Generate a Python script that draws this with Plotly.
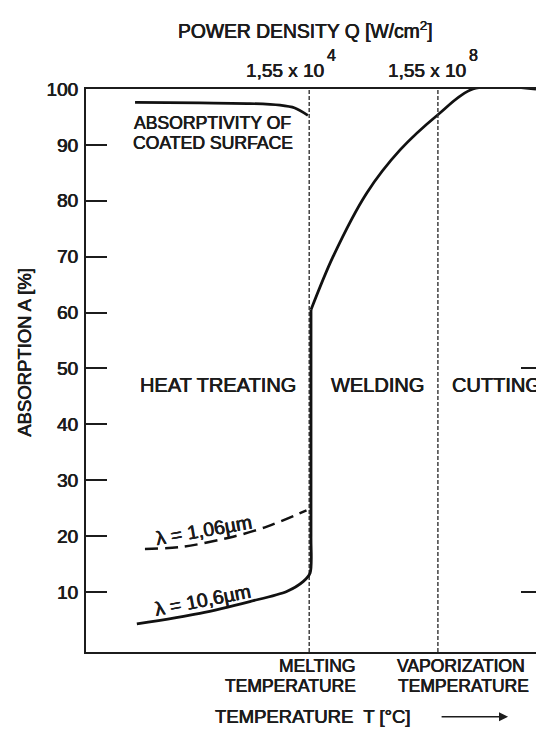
import plotly.graph_objects as go

# ---------------- data ----------------
# x: relative temperature scale (0..10 across the visible plot), y: absorption in %
coated_x = [1.09, 2.53, 3.64, 4.31, 4.64, 4.93]
coated_y = [97.6, 97.5, 97.4, 97.1, 96.6, 95.3]

# lambda = 10.6 um: solid-state part up to the melting jump
co2_low_x = [1.13, 2.53, 3.64, 4.46, 4.83, 4.98, 5.0, 5.0]
co2_low_y = [4.3, 6.2, 8.3, 10.1, 11.9, 13.4, 20.0, 60.5]
# molten part up to full absorption
co2_high_x = [5.0, 5.49, 6.24, 6.98, 7.82, 8.6, 10.0]
co2_high_y = [60.5, 70.0, 81.4, 89.1, 95.4, 100.0, 100.0]

yag_x = [1.31, 2.16, 3.27, 4.02, 4.9]
yag_y = [17.7, 18.1, 19.9, 21.7, 24.6]

melting_T = 4.96
vaporization_T = 7.82

y_ticks = [10, 20, 30, 40, 50, 60, 70, 80, 90, 100]
right_ticks = [10, 50]
y_range = [-0.73, 100]

power_mantissa = ["1,55 x 10", "1,55 x 10"]
power_exponent = ["4", "8"]
region_labels = ["HEAT TREATING", "WELDING", "CUTTING"]

FONT = "Liberation Sans, Arial, Helvetica, sans-serif"
INK = "#1c1c1c"
THICK = "0.35px 0 0 #1c1c1c, -0.35px 0 0 #1c1c1c"

fig = go.Figure()

# region boundaries
fig.add_trace(go.Scatter(x=[melting_T, melting_T], y=y_range, mode="lines",
                         line=dict(color="#333", width=1.4, dash="4px,2px")))
fig.add_trace(go.Scatter(x=[vaporization_T, vaporization_T], y=y_range, mode="lines",
                         line=dict(color="#333", width=1.4, dash="4px,2px"), yaxis="y2"))

# curves
fig.add_trace(go.Scatter(x=coated_x, y=coated_y, mode="lines",
                         line=dict(color="#111", width=2.7, shape="spline", smoothing=0.8)))
fig.add_trace(go.Scatter(x=yag_x, y=yag_y, mode="lines",
                         line=dict(color="#111", width=2.5, dash="13px,7px", shape="spline", smoothing=0.8)))
fig.add_trace(go.Scatter(x=co2_low_x, y=co2_low_y, mode="lines",
                         line=dict(color="#111", width=2.8, shape="spline", smoothing=0.8)))
fig.add_trace(go.Scatter(x=co2_high_x, y=co2_high_y, mode="lines",
                         line=dict(color="#111", width=2.8, shape="spline", smoothing=0.9)))

def ann(text, x, y, size=19, **kw):
    d = dict(text=text, x=x, y=y, xref="paper", yref="paper", showarrow=False,
             xanchor="center", yanchor="middle",
             font=dict(family=FONT, size=size, color=INK, shadow=THICK))
    d.update(kw)
    fig.add_annotation(**d)

# top labels
ann("POWER DENSITY Q [W/cm<sup>2</sup>]", 0.487, 1.104, size=19.3)
ann(power_mantissa[0], 0.442, 1.032, size=19)
ann(power_exponent[0], 0.546, 1.060, size=16)
ann(power_mantissa[1], 0.758, 1.032, size=19)
ann(power_exponent[1], 0.862, 1.060, size=16)

# y title
ann("ABSORPTION A [%]", -0.136, 0.533, size=18.5, textangle=-90)

# region labels
ann(region_labels[0], 0.293, 0.474, size=20)
ann(region_labels[1], 0.647, 0.474, size=20)
ann(region_labels[2], 0.809, 0.474, size=20, xanchor="left")

# curve labels
ann("ABSORPTIVITY OF", 0.28, 0.94, size=17.6)
ann("COATED SURFACE", 0.282, 0.904, size=17.6)
ann("λ = 1,06µm", 0.26, 0.217, size=19.5, textangle=-10)
ann("λ = 10,6µm", 0.258, 0.092, size=19.5, textangle=-11)

# bottom labels
ann("MELTING", 0.604, -0.025, size=17.5, xanchor="right")
ann("TEMPERATURE", 0.604, -0.060, size=17.5, xanchor="right")
ann("VAPORIZATION", 0.833, -0.025, size=17.5)
ann("TEMPERATURE", 0.838, -0.060, size=17.5)
ann("TEMPERATURE  T [°C]", 0.505, -0.115, size=18.5)
fig.add_annotation(x=0.938, y=-0.115, xref="paper", yref="paper", text="",
                   showarrow=True, ax=-68, ay=0, arrowhead=2, arrowsize=1.4,
                   arrowwidth=1.3, arrowcolor=INK)

fig.update_layout(
    width=536, height=729,
    margin=dict(l=86, r=0, t=89, b=77),
    plot_bgcolor="white", paper_bgcolor="white",
    showlegend=False, hovermode=False,
    xaxis=dict(range=[0, 10], showgrid=False, zeroline=False, showticklabels=False,
               ticks="", showline=True, linecolor=INK, linewidth=2, mirror=True),
    yaxis=dict(range=y_range, showgrid=False, zeroline=False,
               tickvals=y_ticks, ticks="inside", ticklen=21, tickwidth=1.5, tickcolor=INK,
               showline=True, linecolor=INK, linewidth=2,
               tickfont=dict(family=FONT, size=19, color=INK, shadow=THICK), ticklabelstandoff=2),
    yaxis2=dict(range=y_range, overlaying="y", side="right", anchor="x",
                showgrid=False, zeroline=False, showline=False, showticklabels=False,
                tickvals=right_ticks, ticks="inside", ticklen=15, tickwidth=1.5, tickcolor=INK),
)

fig.write_html("out.html")
